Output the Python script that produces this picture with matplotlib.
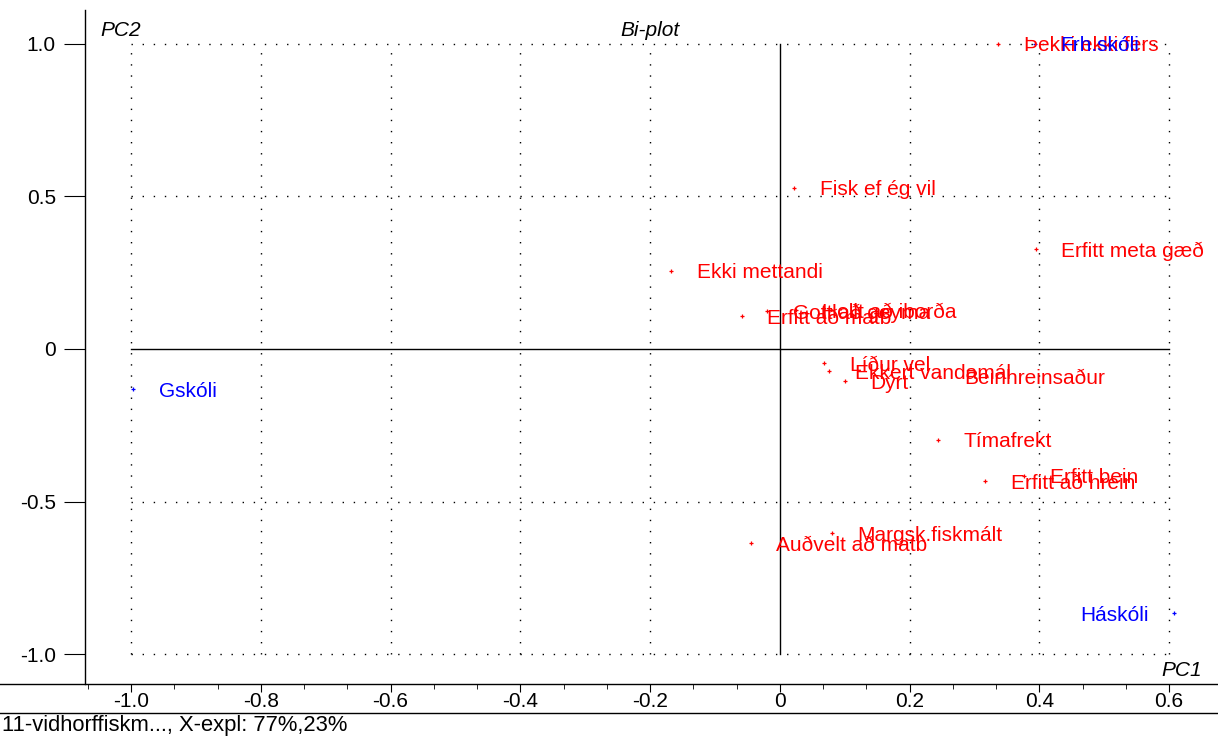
import matplotlib.pyplot as plt
from matplotlib.lines import Line2D
from matplotlib.ticker import AutoMinorLocator, FuncFormatter

plt.rcParams['font.family'] = ['Liberation Sans', 'DejaVu Sans']

# variables (red) - loadings
var_labels = ['Þekki ekki fers', 'Fisk ef ég vil', 'Erfitt meta gæð', 'Ekki mettandi',
              'Erfitt að matb', 'Gott að geyma', 'Hollt að iborða', 'Líður vel',
              'Ekkert vandamál', 'Dýrt', 'Beinhreinsaður', 'Tímafrekt',
              'Erfitt að hrein', 'Erfitt bein', 'Margsk.fiskmált', 'Auðvelt að matb']
var_pc1 = [0.336, 0.022, 0.394, -0.168, -0.059, -0.020, 0.025, 0.068,
           0.076, 0.100, 0.245, 0.244, 0.316, 0.377, 0.080, -0.045]
var_pc2 = [1.000, 0.528, 0.328, 0.256, 0.108, 0.125, 0.128, -0.046,
           -0.072, -0.105, -0.089, -0.298, -0.433, -0.416, -0.603, -0.636]

# samples (blue) - scores
obj_labels = ['Gskóli', 'Frh.skóli', 'Háskóli']
obj_pc1 = [-0.997, 0.393, 0.608]
obj_pc2 = [-0.131, 1.000, -0.866]

xticks = [-1.0, -0.8, -0.6, -0.4, -0.2, 0.0, 0.2, 0.4, 0.6]
yticks = [-1.0, -0.5, 0.0, 0.5, 1.0]

FS = 15

fig = plt.figure(figsize=(12.18, 7.36), dpi=100)
ax = fig.add_axes([85 / 1218, 52 / 736, 1127 / 1218, 674 / 736])
ax.set_xlim(-1.071, 0.666)
ax.set_ylim(-1.098, 1.111)

for s in ['top', 'right', 'bottom']:
    ax.spines[s].set_visible(False)
ax.spines['left'].set_linewidth(1)

# dotted grid, limited to the data range
for x in xticks:
    if x != 0:
        ax.plot([x, x], [-1.0, 1.0], color='black', lw=1, ls=(0, (1, 7)), zorder=1)
for y in yticks:
    if y != 0:
        ax.plot([-1.0, 0.6], [y, y], color='black', lw=1, ls=(0, (1, 7)), zorder=1)
ax.plot([0, 0], [-1.0, 1.0], color='black', lw=1, zorder=1)
ax.plot([-1.0, 0.6], [0, 0], color='black', lw=1, zorder=1)

ax.plot(var_pc1, var_pc2, ls='none', marker='+', ms=3.5, mew=0.9, color='red', zorder=3)
ax.plot(obj_pc1, obj_pc2, ls='none', marker='+', ms=3.5, mew=0.9, color='blue', zorder=3)
for lab, x, y in zip(var_labels, var_pc1, var_pc2):
    ax.annotate(lab, (x, y), xytext=(18.5, -1.5), textcoords='offset points',
                va='center', ha='left', color='red', fontsize=FS)
for lab, x, y in zip(obj_labels, obj_pc1, obj_pc2):
    if x > 0.5:
        ax.annotate(lab, (x, y), xytext=(-18.5, -1.5), textcoords='offset points',
                    va='center', ha='right', color='blue', fontsize=FS)
    else:
        ax.annotate(lab, (x, y), xytext=(18.5, -1.5), textcoords='offset points',
                    va='center', ha='left', color='blue', fontsize=FS)

fmt = FuncFormatter(lambda v, p: '0' if abs(v) < 1e-9 else f'{v:.1f}')
ax.set_xticks(xticks)
ax.set_yticks(yticks)
ax.xaxis.set_major_formatter(fmt)
ax.yaxis.set_major_formatter(fmt)
ax.xaxis.set_minor_locator(AutoMinorLocator(3))
ax.tick_params(axis='x', which='major', length=6, direction='out', labelsize=FS, pad=0)
ax.tick_params(axis='x', which='minor', length=3.5, direction='out')
ax.tick_params(axis='y', which='major', length=15, direction='out', labelsize=FS, pad=6)

# full-width axis line and footer separator
fig.add_artist(Line2D([0, 1], [52 / 736, 52 / 736], color='black', lw=1))
fig.add_artist(Line2D([0, 1], [23 / 736, 23 / 736], color='black', lw=1))

fig.text(100 / 1218, 1 - 30 / 736, 'PC2', style='italic', fontsize=FS, va='center')
fig.text(650 / 1218, 1 - 30 / 736, 'Bi-plot', style='italic', fontsize=FS, ha='center', va='center')
fig.text(1202 / 1218, 1 - 670 / 736, 'PC1', style='italic', fontsize=FS, ha='right', va='center')
fig.text(2 / 1218, 1 - 726 / 736, '11-vidhorffiskm..., X-expl: 77%,23%', fontsize=FS + 0.8, va='center')

fig.savefig('out.png', dpi=100)
